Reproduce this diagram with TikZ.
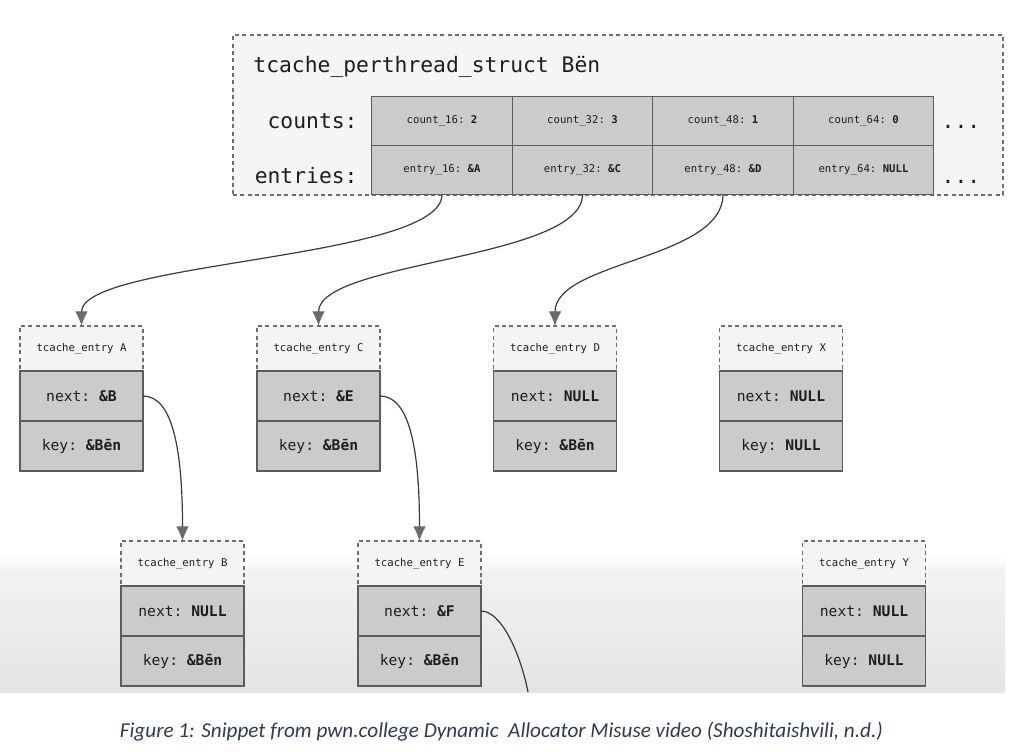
\documentclass[tikz,border=0pt]{standalone}
\usepackage{fontspec}
\setmonofont{DejaVu Sans Mono}
\setsansfont{Carlito}
\usepackage{tikz}
\usetikzlibrary{arrows.meta,positioning}
\definecolor{cellfill}{HTML}{CBCBCB}
\definecolor{cellline}{HTML}{5C5C5C}
\definecolor{hdrfill}{HTML}{F4F4F4}
\definecolor{structfill}{HTML}{F5F5F5}
\definecolor{dashline}{HTML}{6E6E6E}
\definecolor{arrowline}{HTML}{3A3A3A}
\definecolor{arrowhead}{HTML}{6A6A6A}
\definecolor{bandtop}{HTML}{F2F2F2}
\definecolor{bandbot}{HTML}{E4E4E4}
\definecolor{captext}{HTML}{2F3B50}
\definecolor{ink}{HTML}{1E1E1E}

\begin{document}
\begin{tikzpicture}[x=0.75pt, y=-0.75pt, outer sep=0pt, font=\ttfamily, text=ink]
   \useasboundingbox (0,0) rectangle (1024,756);
   \fill[white] (0,0) rectangle (1024,756);
   % faded lower part of the video frame
   \fill[top color=white, bottom color=bandtop] (0,555) rectangle (1005,573);
   \fill[top color=bandtop, bottom color=bandbot] (0,573) rectangle (1005,692);

   % tcache_perthread_struct
   \node[draw=dashline, dash pattern=on 3pt off 2.5pt, line width=0.9pt, fill=structfill,
         minimum width=577.5pt, minimum height=120pt] (tps) at (618,115) {};
   \node[anchor=base west, font=\fontsize{16}{19}\ttfamily] (title) at (249,73) {tcache\_perthread\_struct Bën};
   \node[anchor=base east, font=\fontsize{16}{19}\ttfamily] (counts) at (362,129) {counts:};
   \node[anchor=base east, font=\fontsize{16}{19}\ttfamily] (entries) at (362,184) {entries:};
   \node[anchor=base, font=\fontsize{16}{19}\ttfamily] (dotsc) at (961,129) {...};
   \node[anchor=base, font=\fontsize{16}{19}\ttfamily] (dotse) at (961,184) {...};

   \begin{scope}[every node/.style={draw=cellline, fill=cellfill, line width=0.9pt, inner sep=0pt,
         minimum width=105.4pt, minimum height=36.75pt, font=\fontsize{8}{10}\ttfamily}]
    \node (c16) at (442,121) {count\_16: \textbf{2}};
    \node (c32) at (582.5,121) {count\_32: \textbf{3}};
    \node (c48) at (723,121) {count\_48: \textbf{1}};
    \node (c64) at (863.5,121) {count\_64: \textbf{0}};
    \node (e16) at (442,170) {entry\_16: \textbf{\&A}};
    \node (e32) at (582.5,170) {entry\_32: \textbf{\&C}};
    \node (e48) at (723,170) {entry\_48: \textbf{\&D}};
    \node (e64) at (863.5,170) {entry\_64: \textbf{NULL}};
   \end{scope}

   % tcache_entry headers
   \begin{scope}[every node/.style={draw=dashline, dash pattern=on 3pt off 2.5pt, fill=hdrfill, line width=0.9pt,
         minimum width=92.25pt, minimum height=33.75pt, font=\fontsize{8}{10}\ttfamily}]
    \node (hA) at (81.5,348.5) {tcache\_entry A};
    \node (hC) at (318.5,348.5) {tcache\_entry C};
    \node (hD) at (555,348.5) {tcache\_entry D};
    \node (hX) at (781,348.5) {tcache\_entry X};
    \node (hB) at (182.5,563.5) {tcache\_entry B};
    \node (hE) at (419.5,563.5) {tcache\_entry E};
    \node (hY) at (864,563.5) {tcache\_entry Y};
   \end{scope}

   % next / key fields
   \begin{scope}[every node/.style={draw=cellline, fill=cellfill, line width=0.9pt,
         minimum width=92.25pt, minimum height=37.5pt, font=\fontsize{11}{13}\ttfamily}]
    \node[below=0pt of hA] (nA) {next: \textbf{\&B}};
    \node[below=0pt of nA] (kA) {key: \textbf{\&Bēn}};
    \node[below=0pt of hC] (nC) {next: \textbf{\&E}};
    \node[below=0pt of nC] (kC) {key: \textbf{\&Bēn}};
    \node[below=0pt of hD] (nD) {next: \textbf{NULL}};
    \node[below=0pt of nD] (kD) {key: \textbf{\&Bēn}};
    \node[below=0pt of hX] (nX) {next: \textbf{NULL}};
    \node[below=0pt of nX] (kX) {key: \textbf{NULL}};
    \node[below=0pt of hB] (nB) {next: \textbf{NULL}};
    \node[below=0pt of nB] (kB) {key: \textbf{\&Bēn}};
    \node[below=0pt of hE] (nE) {next: \textbf{\&F}};
    \node[below=0pt of nE] (kE) {key: \textbf{\&Bēn}};
    \node[below=0pt of hY] (nY) {next: \textbf{NULL}};
    \node[below=0pt of nY] (kY) {key: \textbf{NULL}};
   \end{scope}

   \coordinate (Eout) at (528,692);

   \begin{scope}[draw=arrowline, line width=0.9pt, -{Latex[length=11pt, width=9.5pt, color=arrowhead]}]
    \draw (e16.south) .. controls +(0,65) and +(0,-65) .. (hA.north);
    \draw (e32.south) .. controls +(0,65) and +(0,-65) .. (hC.north);
    \draw (e48.south) .. controls +(0,65) and +(0,-65) .. (hD.north);
    \draw (nA.east) .. controls +(30,0) and +(0,-90) .. (hB.north);
    \draw (nC.east) .. controls +(30,0) and +(0,-90) .. (hE.north);
    \draw[-] (nE.east) .. controls +(20,0) and +(-8,-40) .. (Eout);
   \end{scope}

   \node[anchor=base, font=\fontsize{15.9}{18}\sffamily\itshape, text=captext] (cap) at (501.5,737)
      {Figure 1: Snippet from pwn.college Dynamic\ \ Allocator Misuse video (Shoshitaishvili, n.d.)};
\end{tikzpicture}
\end{document}
